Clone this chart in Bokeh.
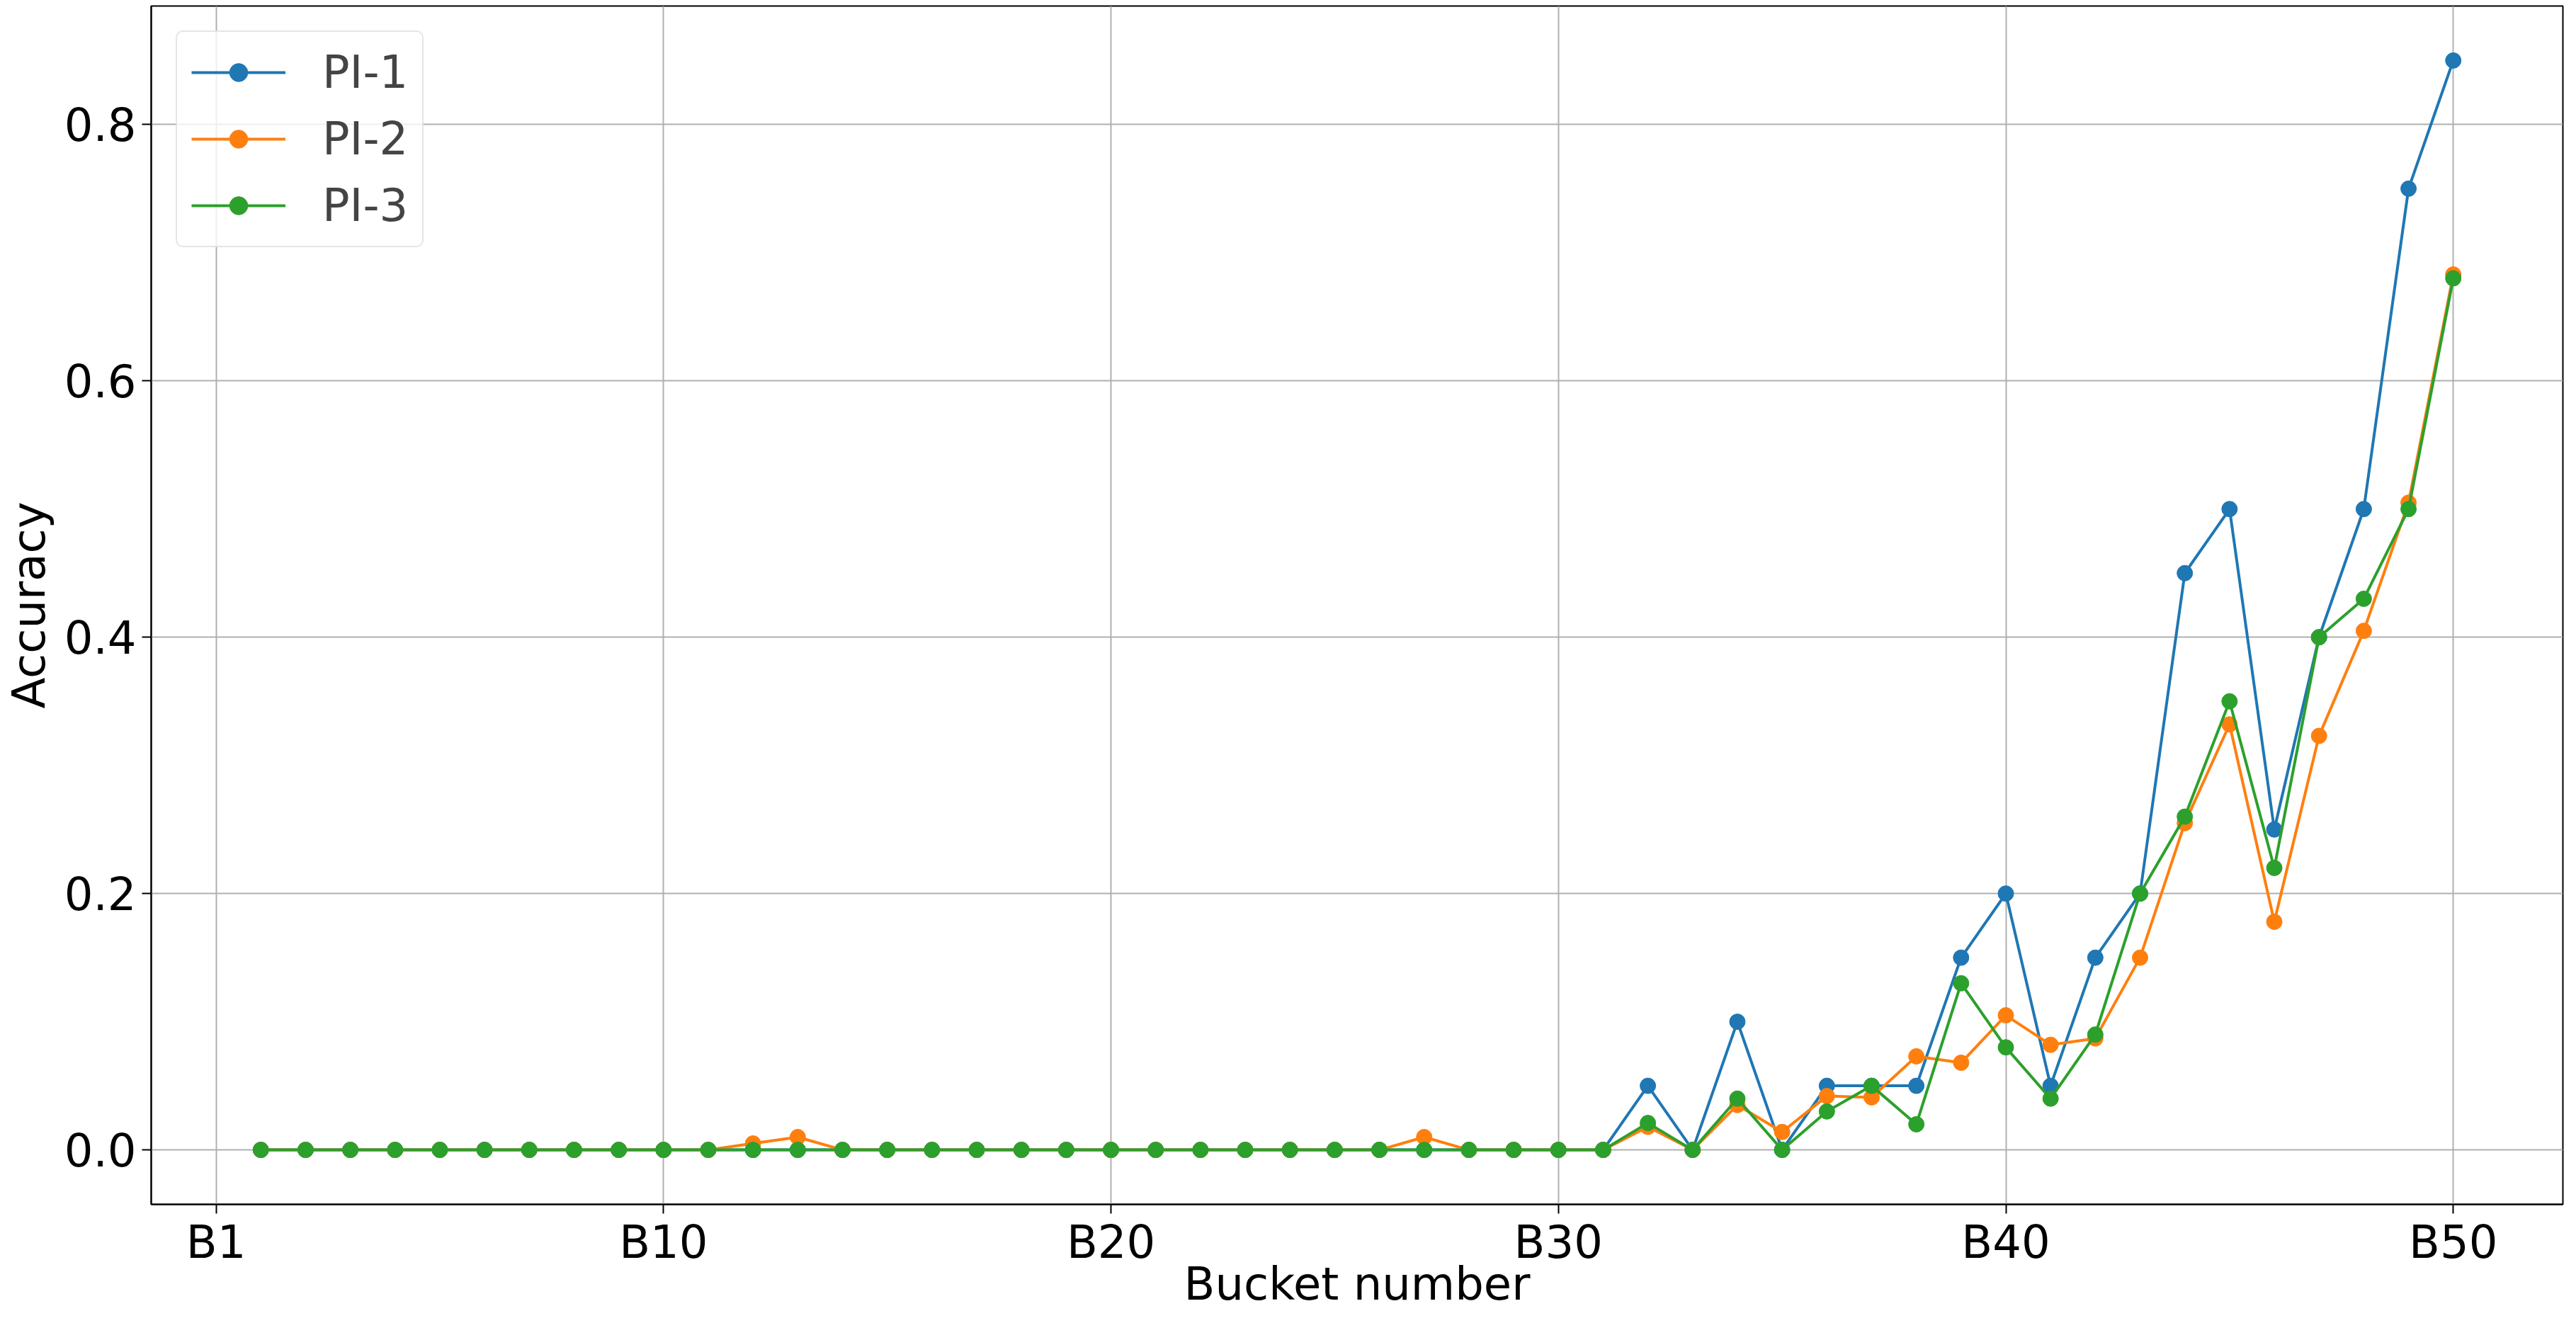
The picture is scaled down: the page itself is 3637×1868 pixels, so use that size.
from bokeh.plotting import figure
from bokeh.embed import file_html
from bokeh.resources import INLINE
from bokeh.models import Range1d, FixedTicker, NumeralTickFormatter

buckets = list(range(1, 51))
pi1 = [0, 0, 0, 0, 0, 0, 0, 0, 0, 0,
       0, 0, 0, 0, 0, 0, 0, 0, 0, 0,
       0, 0, 0, 0, 0, 0, 0, 0, 0, 0,
       0, 0.05, 0, 0.10, 0.0, 0.05, 0.05, 0.05, 0.15, 0.20,
       0.05, 0.15, 0.20, 0.45, 0.50, 0.25, 0.40, 0.50, 0.75, 0.85]
pi2 = [0, 0, 0, 0, 0, 0, 0, 0, 0, 0,
       0, 0.005, 0.01, 0, 0, 0, 0, 0, 0, 0,
       0, 0, 0, 0, 0, 0, 0.01, 0, 0, 0,
       0, 0.018, 0, 0.035, 0.014, 0.042, 0.041, 0.073, 0.068, 0.105,
       0.082, 0.087, 0.15, 0.255, 0.332, 0.178, 0.323, 0.405, 0.505, 0.683]
pi3 = [0, 0, 0, 0, 0, 0, 0, 0, 0, 0,
       0, 0, 0, 0, 0, 0, 0, 0, 0, 0,
       0, 0, 0, 0, 0, 0, 0, 0, 0, 0,
       0, 0.021, 0, 0.04, 0, 0.03, 0.05, 0.02, 0.13, 0.08,
       0.04, 0.09, 0.20, 0.26, 0.35, 0.22, 0.40, 0.43, 0.50, 0.68]
series_names = ["PI-1", "PI-2", "PI-3"]
colors = ["#1f77b4", "#ff7f0e", "#2ca02c"]
x_tick_values = [0, 10, 20, 30, 40, 50]
x_tick_labels = ["B1", "B10", "B20", "B30", "B40", "B50"]
y_tick_values = [0.0, 0.2, 0.4, 0.6, 0.8]

FONT = "DejaVu Sans"
FS = "64px"

p = figure(width=3628, height=1852, output_backend="svg", toolbar_location=None,
           x_range=Range1d(-1.45, 52.45), y_range=Range1d(-0.0425, 0.8925),
           min_border_left=205, min_border_right=10, min_border_top=8, min_border_bottom=148)

for name, vals, c in zip(series_names, [pi1, pi2, pi3], colors):
    p.line(buckets, vals, line_color=c, line_width=4, legend_label=name)
    p.scatter(buckets, vals, size=22, fill_color=c, line_color=c, legend_label=name)

p.xaxis.ticker = FixedTicker(ticks=x_tick_values)
p.xaxis.major_label_overrides = {v: l for v, l in zip(x_tick_values, x_tick_labels)}
p.yaxis.ticker = FixedTicker(ticks=y_tick_values)
p.yaxis.formatter = NumeralTickFormatter(format="0.0")
p.xaxis.axis_label = "Bucket number"
p.yaxis.axis_label = "Accuracy"

for ax in [p.xaxis[0], p.yaxis[0]]:
    ax.axis_label_text_font = FONT
    ax.axis_label_text_font_size = FS
    ax.axis_label_text_font_style = "normal"
    ax.axis_label_text_color = "black"
    ax.major_label_text_font = FONT
    ax.major_label_text_font_size = FS
    ax.major_label_text_color = "black"
    ax.minor_tick_line_color = None
    ax.major_tick_in = 0
    ax.major_tick_out = 13
    ax.major_tick_line_width = 2
    ax.major_tick_line_color = "black"
    ax.axis_line_color = "black"
    ax.axis_line_width = 2

p.xaxis.major_label_standoff = 3
p.xaxis.axis_label_standoff = -18
p.yaxis.major_label_standoff = 8
p.yaxis.axis_label_standoff = 10

p.outline_line_color = "black"
p.outline_line_width = 2
p.outline_line_alpha = 1

for g in [p.xgrid[0], p.ygrid[0]]:
    g.grid_line_color = "#b0b0b0"
    g.grid_line_width = 2
    g.grid_line_alpha = 1
p.xgrid.ticker = FixedTicker(ticks=x_tick_values)
p.ygrid.ticker = FixedTicker(ticks=y_tick_values)

lg = p.legend[0]
lg.location = "top_left"
lg.margin = 35
lg.padding = 20
lg.spacing = 20
lg.glyph_width = 133
lg.glyph_height = 64
lg.label_standoff = 52
lg.label_text_font = FONT
lg.label_text_font_size = FS
lg.label_height = 64
lg.border_line_color = "#cccccc"
lg.border_line_width = 2
lg.border_radius = 10
lg.background_fill_color = "white"
lg.background_fill_alpha = 0.8

open("out.html", "w").write(file_html(p, INLINE))
